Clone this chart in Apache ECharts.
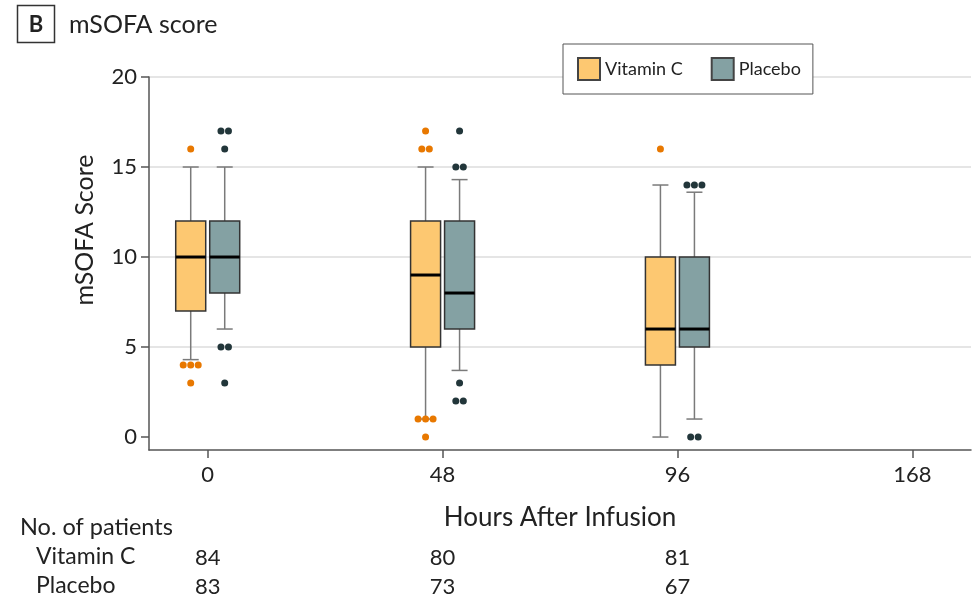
<!DOCTYPE html>
<html>
<head>
<meta charset="UTF-8">
<script src="https://cdn.jsdelivr.net/npm/echarts@6/dist/echarts.min.js"></script>
<style>html,body{margin:0;background:#fff}#main{width:973px;height:600px}</style>
</head>
<body>
<div id="main"></div>
<script>
var hours = ['0', '48', '96', '168'];
// [min, Q1, median, Q3, max] for each time point
var vitaminCBox = [[4.3, 7, 10, 12, 15], [1, 5, 9, 12, 15], [0, 4, 6, 10, 14]];
var placeboBox = [[6, 8, 10, 12, 15], [3.7, 6, 8, 12, 14.3], [1, 5, 6, 10, 13.6]];
// outliers: [time index, score, how many dots]
var vitaminCOut = [[0, 16, 1], [0, 4, 3], [0, 3, 1], [1, 17, 1], [1, 16, 2], [1, 1, 3], [1, 0, 1], [2, 16, 1]];
var placeboOut = [[0, 17, 2], [0, 16, 1], [0, 5, 2], [0, 3, 1], [1, 17, 1], [1, 15, 2], [1, 3, 1], [1, 2, 2], [2, 14, 3], [2, 0, 2]];
var vitaminCCount = [84, 80, 81];
var placeboCount = [83, 73, 67];
var yTicks = [0, 5, 10, 15, 20];

var font = 'Lato';
var txt = '#222';
var boxHalf = 15, capHalf = 8, shift = 17, dotGap = 7.5;

function boxData(list) {
    return list.map(function (b, i) { return [i].concat(b); });
}
function outData(list, dx) {
    var pts = [];
    list.forEach(function (o) {
        for (var k = 0; k < o[2]; k++) {
            pts.push({ value: [o[0], o[1]], symbolOffset: [dx + (k - (o[2] - 1) / 2) * dotGap, 0] });
        }
    });
    return pts;
}
function renderBox(dx) {
    return function (params, api) {
        var x = api.value(0);
        var lo = api.coord([x, api.value(1)]);
        var q1 = api.coord([x, api.value(2)]);
        var md = api.coord([x, api.value(3)]);
        var q3 = api.coord([x, api.value(4)]);
        var hi = api.coord([x, api.value(5)]);
        var cx = lo[0] + dx;
        var wk = { stroke: '#7a7a7a', lineWidth: 1.5 };
        return {
            type: 'group',
            children: [
                { type: 'line', shape: { x1: cx, y1: hi[1], x2: cx, y2: q3[1] }, style: wk },
                { type: 'line', shape: { x1: cx, y1: q1[1], x2: cx, y2: lo[1] }, style: wk },
                { type: 'line', shape: { x1: cx - capHalf, y1: hi[1], x2: cx + capHalf, y2: hi[1] }, style: wk },
                { type: 'line', shape: { x1: cx - capHalf, y1: lo[1], x2: cx + capHalf, y2: lo[1] }, style: wk },
                { type: 'rect', shape: { x: cx - boxHalf, y: q3[1], width: boxHalf * 2, height: q1[1] - q3[1] },
                  style: { fill: api.visual('color'), stroke: '#333', lineWidth: 1.5 } },
                { type: 'line', shape: { x1: cx - boxHalf, y1: md[1], x2: cx + boxHalf, y2: md[1] },
                  style: { stroke: '#000', lineWidth: 3 } }
            ]
        };
    };
}
function countAxis(counts, off) {
    return {
        type: 'value', min: -0.25, max: 3.25, position: 'bottom', offset: off,
        axisLine: { show: false, onZero: false }, axisTick: { show: false }, splitLine: { show: false },
        axisLabel: {
            customValues: [0, 1, 2], margin: 0, fontSize: 22, color: txt, fontFamily: font,
            formatter: function (v) { return String(counts[Math.round(v)]); }
        }
    };
}

var myChart = echarts.init(document.getElementById('main'));
myChart.setOption({
    animation: false,
    backgroundColor: '#fff',
    grid: { left: 149, right: 2, top: 77, bottom: 150 },
    legend: {
        left: 563, top: 44, itemWidth: 22, itemHeight: 22, itemGap: 28,
        padding: [13, 12, 13, 14], borderColor: '#555', borderWidth: 1, backgroundColor: '#fff',
        textStyle: { fontSize: 18, color: txt, fontFamily: font },
        data: [{ name: 'Vitamin C', icon: 'rect' }, { name: 'Placebo', icon: 'rect' }]
    },
    xAxis: [{
        type: 'value', min: -0.25, max: 3.25,
        axisLine: { onZero: false, lineStyle: { color: '#555', width: 1.5 } },
        axisTick: { customValues: [0, 1, 2, 3], length: 8, lineStyle: { color: '#555', width: 1.5 } },
        axisLabel: {
            customValues: [0, 1, 2, 3], margin: 14, fontSize: 22, color: txt, fontFamily: font,
            formatter: function (v) { return hours[Math.round(v)]; }
        },
        splitLine: { show: false },
        name: 'Hours After Infusion', nameLocation: 'middle', nameGap: 55,
        nameTextStyle: { fontSize: 26, color: txt, fontFamily: font }
    }, countAxis(vitaminCCount, 97), countAxis(placeboCount, 126)],
    yAxis: {
        type: 'value', min: -0.72, max: 20,
        axisLine: { show: true, onZero: false, lineStyle: { color: '#555', width: 1.5 } },
        axisTick: { show: true, customValues: yTicks, length: 8, lineStyle: { color: '#555', width: 1.5 } },
        axisLabel: { customValues: yTicks, margin: 12, fontSize: 22, color: txt, fontFamily: font },
        splitLine: { show: true, showMinLine: false, lineStyle: { color: '#dcdcdc', width: 1.5 } }
    },
    graphic: [
        { type: 'rect', shape: { x: 17.5, y: 5.5, width: 37, height: 37 }, style: { fill: '#fff', stroke: '#333', lineWidth: 1.5 } },
        { type: 'text', x: 36, y: 25, style: { text: 'B', fontSize: 22, fontWeight: 'bold', fontFamily: font, fill: txt, align: 'center', verticalAlign: 'middle' } },
        { type: 'text', x: 69, y: 25, style: { text: 'mSOFA score', fontSize: 25, fontFamily: font, fill: txt, verticalAlign: 'middle' } },
        { type: 'text', x: 85, y: 230, rotation: Math.PI / 2, style: { text: 'mSOFA Score', fontSize: 25, fontFamily: font, fill: txt, align: 'center', verticalAlign: 'middle' } },
        { type: 'text', x: 20, y: 527, style: { text: 'No. of patients', fontSize: 23.5, fontFamily: font, fill: txt, verticalAlign: 'middle' } },
        { type: 'text', x: 36, y: 557, style: { text: 'Vitamin C', fontSize: 23, fontFamily: font, fill: txt, verticalAlign: 'middle' } },
        { type: 'text', x: 36, y: 586, style: { text: 'Placebo', fontSize: 23, fontFamily: font, fill: txt, verticalAlign: 'middle' } }
    ],
    series: [
        { name: 'Vitamin C', type: 'custom', renderItem: renderBox(-shift), data: boxData(vitaminCBox),
          encode: { x: 0, y: [1, 2, 3, 4, 5] }, itemStyle: { color: '#fdc871', borderColor: '#444', borderWidth: 1 }, z: 2 },
        { name: 'Placebo', type: 'custom', renderItem: renderBox(shift), data: boxData(placeboBox),
          encode: { x: 0, y: [1, 2, 3, 4, 5] }, itemStyle: { color: '#84a1a3', borderColor: '#444', borderWidth: 1 }, z: 2 },
        { name: 'Vitamin C', type: 'scatter', symbolSize: 7, data: outData(vitaminCOut, -shift),
          itemStyle: { color: '#e87800', opacity: 1 }, z: 3 },
        { name: 'Placebo', type: 'scatter', symbolSize: 7, data: outData(placeboOut, shift),
          itemStyle: { color: '#22363a', opacity: 1 }, z: 3 }
    ]
});
</script>
</body>
</html>
